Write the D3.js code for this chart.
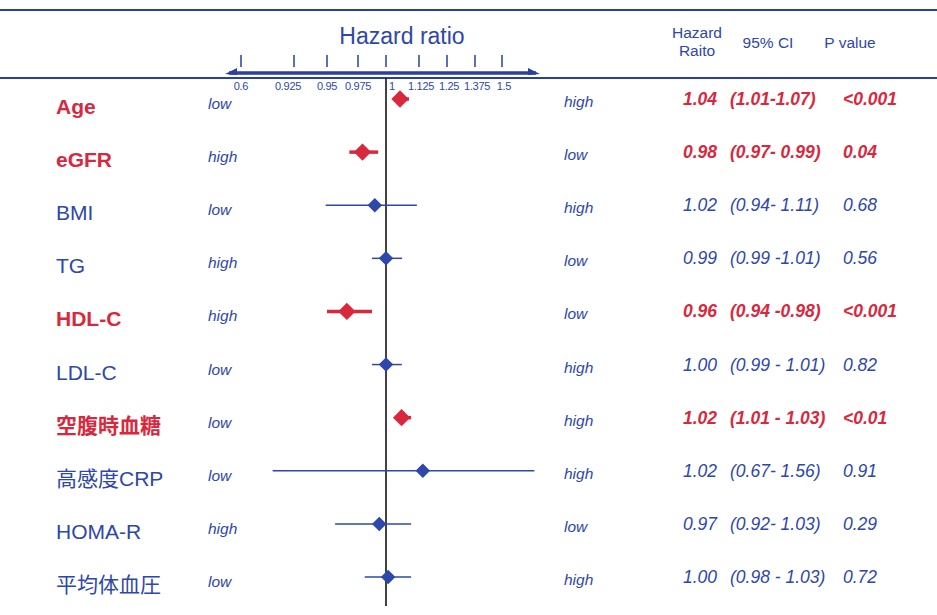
<!DOCTYPE html>
<html><head><meta charset="utf-8">
<script src="https://cdn.jsdelivr.net/npm/d3@7"></script>
<style>
html,body{margin:0;padding:0;background:#fff;}
svg{display:block;font-family:"Liberation Sans",Arial,sans-serif;}
</style></head>
<body><svg id="c" width="937" height="615"></svg>
<script>
// ---- data ----
const rows = ["Age","eGFR","BMI","TG","HDL-C","LDL-C","空腹時血糖","高感度CRP","HOMA-R","平均体血圧"];
const significant = [true,true,false,false,true,false,true,false,false,false];
const leftTag  = ["low","high","low","high","high","low","low","low","high","low"];
const rightTag = ["high","low","high","low","low","high","high","high","low","high"];
// positions of markers (axis units)
const hrPlot = [1.053,0.979,0.990,1.000,0.966,1.000,1.059,1.142,0.994,1.008];
const loPlot = [1.038,0.968,0.949,0.9875,0.950,0.9875,1.040,0.794,0.9565,0.981];
const hiPlot = [1.087,0.993,1.117,1.061,0.9875,1.060,1.095,1.650,1.095,1.095];
// printed table
const hrText = ["1.04","0.98","1.02","0.99","0.96","1.00","1.02","1.02","0.97","1.00"];
const ciText = ["(1.01-1.07)","(0.97- 0.99)","(0.94- 1.11)","(0.99 -1.01)","(0.94  -0.98)","(0.99 - 1.01)","(1.01 - 1.03)","(0.67- 1.56)","(0.92- 1.03)","(0.98 - 1.03)"];
const pText  = ["<0.001","0.04","0.68","0.56","<0.001","0.82","<0.01","0.91","0.29","0.72"];
const tickValues = [0.6,0.925,0.95,0.975,1,1.125,1.25,1.375,1.5];
const tickLabels = ["0.6","0.925","0.95","0.975","1","1.125","1.25","1.375","1.5"];

// ---- drawing ----
const RED = "#d9283d", BLUE = "#2e47aa", AX = "#2a3ea3";
const svg = d3.select("#c");
const x = d3.scaleLinear().domain(tickValues).range([241,294,327,358,386,419,447,475,502]);
const y = d3.scalePoint().domain(rows).range([99,577]);

// header rules
svg.append("line").attr("x1",0).attr("x2",937).attr("y1",10).attr("y2",10).attr("stroke",AX).attr("stroke-width",2);
svg.append("line").attr("x1",0).attr("x2",937).attr("y1",78).attr("y2",78).attr("stroke",AX).attr("stroke-width",2);

// title
svg.append("text").attr("x",402).attr("y",44).attr("text-anchor","middle")
  .attr("font-size",23).attr("fill",BLUE).text("Hazard ratio");

// axis line with arrows
const ax0 = x(0.6)-16, ax1 = x(1.5)+38, ay = 73;
svg.append("line").attr("x1",ax0+4).attr("x2",ax1-4).attr("y1",ay).attr("y2",ay).attr("stroke",AX).attr("stroke-width",3.5);
svg.append("path").attr("d",`M${ax0},${ay+1} L${ax0+12},${ay-5} L${ax0+12},${ay+2} Z`).attr("fill",AX);
svg.append("path").attr("d",`M${ax1},${ay+1} L${ax1-12},${ay-5} L${ax1-12},${ay+2} Z`).attr("fill",AX);

// ticks
svg.selectAll(".tk").data(tickValues).join("line").attr("class","tk")
  .attr("x1",d=>x(d)).attr("x2",d=>x(d)).attr("y1",55).attr("y2",67)
  .attr("stroke",AX).attr("stroke-width",1.5);
svg.selectAll(".tl").data(tickValues).join("text").attr("class","tl")
  .attr("x",d=> d===1 ? x(d)+3 : (d>1 ? x(d)+2 : (d===0.925 ? x(d)-6 : x(d))))
  .attr("y",90)
  .attr("text-anchor",d=> d===1 ? "start" : "middle")
  .attr("letter-spacing",-0.3)
  .attr("font-size",11).attr("fill",BLUE).text((d,i)=>tickLabels[i]);

// column headers
svg.append("text").attr("x",697).attr("y",38).attr("text-anchor","middle").attr("font-size",15.5).attr("fill",BLUE).text("Hazard");
svg.append("text").attr("x",697).attr("y",56).attr("text-anchor","middle").attr("font-size",15.5).attr("fill",BLUE).text("Raito");
svg.append("text").attr("x",768).attr("y",48).attr("text-anchor","middle").attr("font-size",15.5).attr("fill",BLUE).text("95% CI");
svg.append("text").attr("x",850).attr("y",48).attr("text-anchor","middle").attr("font-size",15.5).attr("fill",BLUE).text("P value");

// reference line at 1
svg.append("line").attr("x1",x(1)).attr("x2",x(1)).attr("y1",78).attr("y2",606)
  .attr("stroke","#222").attr("stroke-width",1.7);

const idx = d3.range(rows.length);
const col = i => significant[i] ? RED : BLUE;

// CI lines
svg.selectAll(".ci").data(idx).join("line").attr("class","ci")
  .attr("x1",i=>x(loPlot[i])).attr("x2",i=>x(hiPlot[i]))
  .attr("y1",i=>y(rows[i])).attr("y2",i=>y(rows[i]))
  .attr("stroke",col).attr("stroke-width",i=>significant[i]?3.5:1.5);

// diamonds
const sym = d3.symbol().type(d3.symbolSquare);
svg.selectAll(".pt").data(idx).join("path").attr("class","pt")
  .attr("d",i=>sym.size(significant[i] ? (hiPlot[i]-loPlot[i] > 0.02 ? 150 : 85) : 105)())
  .attr("transform",i=>`translate(${x(hrPlot[i])},${y(rows[i])}) rotate(45)`)
  .attr("fill",col);

// row labels
svg.selectAll(".lab").data(idx).join("text").attr("class","lab")
  .attr("x",56).attr("y",i=>y(rows[i])+15)
  .attr("font-size",21).attr("font-weight",i=>significant[i]?"bold":"normal")
  .attr("font-family",'"Liberation Sans","Noto Sans CJK JP",sans-serif')
  .attr("fill",col).text(i=>rows[i]);

// low/high tags
svg.selectAll(".lt").data(idx).join("text").attr("class","lt")
  .attr("x",208).attr("y",i=>y(rows[i])+10)
  .attr("font-size",15.5).attr("font-style","italic").attr("fill",BLUE).text(i=>leftTag[i]);
svg.selectAll(".rt").data(idx).join("text").attr("class","rt")
  .attr("x",564).attr("y",i=>y(rows[i])+8)
  .attr("font-size",15.5).attr("font-style","italic").attr("fill",BLUE).text(i=>rightTag[i]);

// table values
function tcol(arr, xpos, cls){
  svg.selectAll("."+cls).data(idx).join("text").attr("class",cls)
    .attr("x",xpos).attr("y",i=>y(rows[i])+6)
    .attr("font-size",17.5).attr("font-style","italic")
    .attr("font-weight",i=>significant[i]?"bold":"normal")
    .attr("fill",col).text(i=>arr[i]);
}
tcol(hrText,683,"hv");
tcol(ciText,730,"cv");
tcol(pText,843,"pv");
</script></body></html>
